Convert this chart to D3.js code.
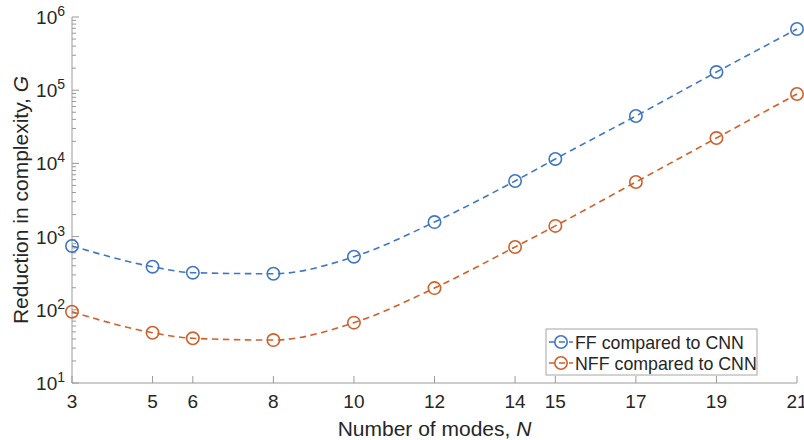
<!DOCTYPE html>
<html>
<head>
<meta charset="utf-8">
<script src="https://cdn.jsdelivr.net/npm/d3@7"></script>
<style>
  html, body { margin: 0; padding: 0; background: #fff; }
  svg { display: block; font-family: "Liberation Sans", Arial, Helvetica, sans-serif; }
</style>
</head>
<body>
<svg id="chart" width="804" height="440"></svg>
<script>
// Number of modes N
const modes = [3, 5, 6, 8, 10, 12, 14, 15, 17, 19, 21];
// Reduction in complexity G, feed-forward vs CNN
const ffValues = [745, 388, 321, 311, 531, 1580, 5750, 11500, 44400, 177000, 686000];
// Reduction in complexity G, non-feed-forward vs CNN
const nffValues = [94, 48.6, 40.8, 38.6, 66.7, 198, 721, 1400, 5570, 22200, 88700];
const xTicks = [3, 5, 6, 8, 10, 12, 14, 15, 17, 19, 21];
const yExponents = [1, 2, 3, 4, 5, 6];
const seriesNames = ["FF compared to CNN", "NFF compared to CNN"];
const seriesColors = ["#3f77c6", "#d2602a"];

const svg = d3.select("#chart");
const margin = { left: 72, right: 7, top: 17, bottom: 57 };
const W = 804, H = 440;
const axisColor = "#9a9a9a";
const textColor = "#262626";

const x = d3.scaleLinear().domain([3, 21]).range([margin.left, W - margin.right]);
const y = d3.scaleLog().domain([10, 1e6]).range([H - margin.bottom, margin.top]);

const g = svg.append("g");

// y axis with log minor ticks pointing inward
const yMinor = [];
yExponents.slice(0, -1).forEach(e => { for (let k = 2; k <= 9; k++) yMinor.push(k * Math.pow(10, e)); });
g.append("line").attr("x1", x(3)).attr("x2", x(3)).attr("y1", y(10)).attr("y2", y(1e6))
  .attr("stroke", axisColor).attr("stroke-width", 1);
g.selectAll(".ymaj").data(yExponents).join("line")
  .attr("x1", x(3)).attr("x2", x(3) + 7).attr("y1", d => y(Math.pow(10, d))).attr("y2", d => y(Math.pow(10, d)))
  .attr("stroke", axisColor);
g.selectAll(".ymin").data(yMinor).join("line")
  .attr("x1", x(3)).attr("x2", x(3) + 4).attr("y1", d => y(d)).attr("y2", d => y(d))
  .attr("stroke", axisColor);

const yLab = g.selectAll(".ylab").data(yExponents).join("text")
  .attr("x", x(3) - 7).attr("y", d => y(Math.pow(10, d)) + 7)
  .attr("text-anchor", "end").attr("fill", textColor).attr("font-size", 19);
yLab.append("tspan").text("10");
yLab.append("tspan").attr("dy", -8).attr("font-size", 14).text(d => d);

// x axis with inward ticks
g.append("line").attr("x1", x(3)).attr("x2", x(21)).attr("y1", y(10)).attr("y2", y(10))
  .attr("stroke", axisColor).attr("stroke-width", 1);
g.selectAll(".xt").data(xTicks).join("line")
  .attr("x1", d => x(d)).attr("x2", d => x(d)).attr("y1", y(10)).attr("y2", y(10) - 7)
  .attr("stroke", axisColor);
g.selectAll(".xl").data(xTicks).join("text")
  .attr("x", d => x(d)).attr("y", y(10) + 25)
  .attr("text-anchor", "middle").attr("fill", textColor).attr("font-size", 19)
  .text(d => d);

// axis titles
const xt = g.append("text").attr("x", (x(3) + x(21)) / 2).attr("y", 436)
  .attr("text-anchor", "middle").attr("fill", textColor).attr("font-size", 21);
xt.append("tspan").text("Number of modes, ");
xt.append("tspan").attr("font-style", "italic").text("N");

const yt = g.append("text").attr("transform", `translate(28,${(y(10) + y(1e6)) / 2}) rotate(-90)`)
  .attr("text-anchor", "middle").attr("fill", textColor).attr("font-size", 21);
yt.append("tspan").text("Reduction in complexity, ");
yt.append("tspan").attr("font-style", "italic").text("G");

// series: smooth dashed curves with hollow circle markers
const series = [ffValues, nffValues].map((vals, i) => ({
  name: seriesNames[i], color: seriesColors[i],
  pts: modes.map((m, j) => [m, vals[j]])
}));
const line = d3.line().x(d => x(d[0])).y(d => y(d[1])).curve(d3.curveMonotoneX);

series.forEach(s => {
  g.append("path").attr("d", line(s.pts)).attr("fill", "none")
    .attr("stroke", s.color).attr("stroke-width", 1.6).attr("stroke-dasharray", "6.5,4.5");
  g.selectAll(null).data(s.pts).join("circle")
    .attr("cx", d => x(d[0])).attr("cy", d => y(d[1])).attr("r", 6.2)
    .attr("fill", "none").attr("stroke", s.color).attr("stroke-width", 1.6);
});

// legend
const lg = g.append("g").attr("transform", "translate(546,329)");
lg.append("rect").attr("width", 211).attr("height", 46)
  .attr("fill", "#fff").attr("stroke", "#a6a6a6").attr("stroke-width", 1);
series.forEach((s, i) => {
  const cy = 13 + i * 21;
  lg.append("line").attr("x1", 3).attr("x2", 27).attr("y1", cy).attr("y2", cy)
    .attr("stroke", s.color).attr("stroke-width", 1.6).attr("stroke-dasharray", "6,4");
  lg.append("circle").attr("cx", 15).attr("cy", cy).attr("r", 6.2)
    .attr("fill", "none").attr("stroke", s.color).attr("stroke-width", 1.6);
  lg.append("text").attr("x", 29).attr("y", cy + 6.5).attr("fill", textColor)
    .attr("font-size", 17.8).text(s.name);
});
</script>
</body>
</html>
